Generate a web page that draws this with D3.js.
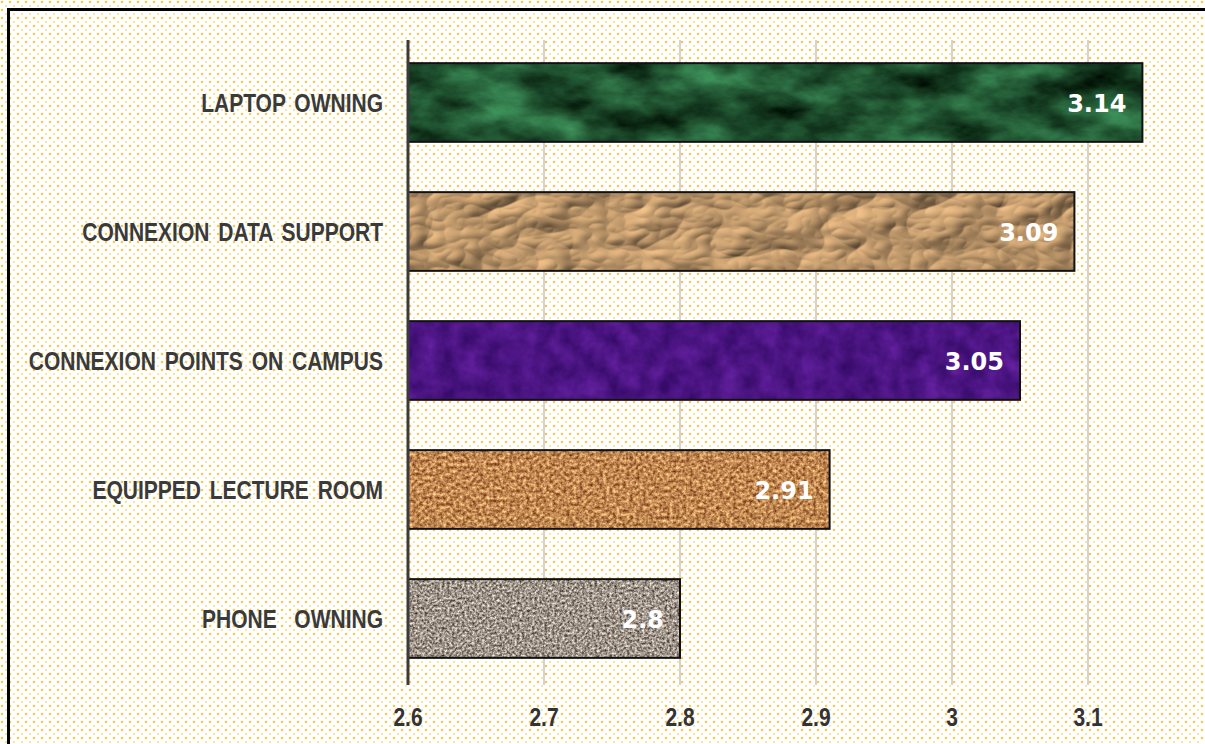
<!DOCTYPE html>
<html>
<head>
<meta charset="utf-8">
<script src="https://cdn.jsdelivr.net/npm/d3@7"></script>
<style>
  body { margin: 0; background: #fff; }
  svg { display: block; }
</style>
</head>
<body>
<svg id="chart" width="1205" height="744"></svg>
<script>
// données du graphique
const categories = ["LAPTOP OWNING", "CONNEXION DATA SUPPORT", "CONNEXION POINTS ON CAMPUS", "EQUIPPED LECTURE ROOM", "PHONE  OWNING"];
const values = [3.14, 3.09, 3.05, 2.91, 2.8];
const tickValues = [2.6, 2.7, 2.8, 2.9, 3.0, 3.1];
const textures = ["marble", "paper", "purple", "cork", "granite"];

const svg = d3.select("#chart");
const width = +svg.attr("width");
const height = +svg.attr("height");

const margin = { left: 408, top: 38, bottom: 61 };
const x = d3.scaleLinear().domain([2.6, 3.1]).range([408, 1088]);
const y = d3.scaleBand().domain(categories).range([margin.top, height - margin.bottom])
    .paddingInner(0.39).paddingOuter(0.195);

const defs = svg.append("defs");

// fond à pois jaunes
const dots = defs.append("pattern").attr("id", "dots")
    .attr("width", 8).attr("height", 8).attr("patternUnits", "userSpaceOnUse");
dots.append("circle").attr("cx", 2).attr("cy", 2).attr("r", 1.3).attr("fill", "#f7c12c").attr("opacity", 0.85);
dots.append("circle").attr("cx", 6).attr("cy", 6).attr("r", 1.1).attr("fill", "#f7c12c").attr("opacity", 0.55);

svg.append("rect").attr("width", width).attr("height", height).attr("fill", "url(#dots)");

// textures des barres (filtres)
function noiseFilter(id, freq, oct, seed, matrix, type) {
    const f = defs.append("filter").attr("id", id)
        .attr("x", 0).attr("y", 0).attr("width", 1).attr("height", 1)
        .attr("color-interpolation-filters", "sRGB");
    f.append("feTurbulence").attr("type", type || "fractalNoise").attr("baseFrequency", freq)
        .attr("numOctaves", oct).attr("seed", seed).attr("result", "n");
    f.append("feColorMatrix").attr("in", "n").attr("type", "matrix").attr("values", matrix).attr("result", "c");
    f.append("feComposite").attr("in", "c").attr("in2", "SourceGraphic").attr("operator", "in");
}
noiseFilter("marble", "0.015 0.03", 5, 7,
    "0.35 0 0 0 -0.05  0.75 0 0 0 -0.05  0.5 0 0 0 -0.06  0 0 0 0 1");
noiseFilter("purple", "0.05", 4, 3,
    "0.25 0 0 0 0.17  0.12 0 0 0 0.02  0.3 0 0 0 0.36  0 0 0 0 1");
noiseFilter("cork", "0.3", 3, 11,
    "0.9 0 0 0 0.3  0.9 0 0 0 0.08  0.7 0 0 0 -0.03  0 0 0 0 1");
noiseFilter("granite", "0.4", 3, 5,
    "1.1 0 0 0 0.07  1.1 0 0 0 0.03  1.1 0 0 0 -0.01  0 0 0 0 1");

// papier froissé avec éclairage
const pf = defs.append("filter").attr("id", "paper")
    .attr("x", 0).attr("y", 0).attr("width", 1).attr("height", 1)
    .attr("color-interpolation-filters", "sRGB");
pf.append("feTurbulence").attr("type", "turbulence").attr("baseFrequency", "0.014 0.024")
    .attr("numOctaves", 3).attr("seed", 9).attr("result", "n");
pf.append("feDiffuseLighting").attr("in", "n").attr("surfaceScale", 4)
    .attr("diffuseConstant", 1.2).attr("lighting-color", "#d9ad7a").attr("result", "l")
  .append("feDistantLight").attr("azimuth", 225).attr("elevation", 45);
pf.append("feComposite").attr("in", "l").attr("in2", "SourceGraphic").attr("operator", "in");

// grille verticale
svg.append("g").selectAll("line").data(tickValues.slice(1)).join("line")
    .attr("x1", d => x(d)).attr("x2", d => x(d))
    .attr("y1", 40).attr("y2", 685)
    .attr("stroke", "#c4c4c4").attr("stroke-width", 1.5);

// barres
const bars = svg.append("g").selectAll("g").data(categories).join("g");
bars.append("rect")
    .attr("x", x(2.6)).attr("y", d => y(d))
    .attr("width", (d, i) => x(values[i]) - x(2.6)).attr("height", y.bandwidth())
    .attr("fill", "#888").attr("filter", (d, i) => `url(#${textures[i]})`);
bars.append("rect")
    .attr("x", x(2.6)).attr("y", d => y(d))
    .attr("width", (d, i) => x(values[i]) - x(2.6)).attr("height", y.bandwidth())
    .attr("fill", "none").attr("stroke", "#111").attr("stroke-width", 2);

// valeurs
bars.append("text")
    .attr("x", (d, i) => x(values[i]) - 16)
    .attr("y", d => y(d) + y.bandwidth() / 2 + 9)
    .attr("text-anchor", "end")
    .attr("font-family", "DejaVu Sans")
    .attr("font-weight", "bold")
    .attr("font-size", "24px")
    .attr("fill", "#fff")
    .text((d, i) => String(values[i]));

// axe vertical
svg.append("line").attr("x1", x(2.6)).attr("x2", x(2.6)).attr("y1", 40).attr("y2", 685)
    .attr("stroke", "#3a3a3a").attr("stroke-width", 3);

// étiquettes des catégories (police étirée verticalement)
svg.append("g").selectAll("text").data(categories).join("text")
    .attr("transform", d => `translate(383,${y(d) + y.bandwidth() / 2 + 9}) scale(1,1.2)`)
    .attr("text-anchor", "end")
    .attr("font-family", "Liberation Sans")
    .attr("font-weight", "bold")
    .attr("font-size", "21px")
    .attr("word-spacing", "3px")
    .attr("fill", "#3a3a3a")
    .style("white-space", "pre")
    .text(d => d);

// étiquettes de l'axe x
svg.append("g").selectAll("text").data(tickValues).join("text")
    .attr("transform", d => `translate(${x(d)},726) scale(1,1.25)`)
    .attr("text-anchor", "middle")
    .attr("font-family", "Liberation Sans")
    .attr("font-weight", "bold")
    .attr("font-size", "21px")
    .attr("fill", "#333")
    .text(d => d3.format("~g")(d));

// cadre
svg.append("line").attr("x1", 8.5).attr("x2", 8.5).attr("y1", 8).attr("y2", height)
    .attr("stroke", "#000").attr("stroke-width", 3);
svg.append("line").attr("x1", 7).attr("x2", width).attr("y1", 9.5).attr("y2", 9.5)
    .attr("stroke", "#000").attr("stroke-width", 3);
</script>
</body>
</html>
